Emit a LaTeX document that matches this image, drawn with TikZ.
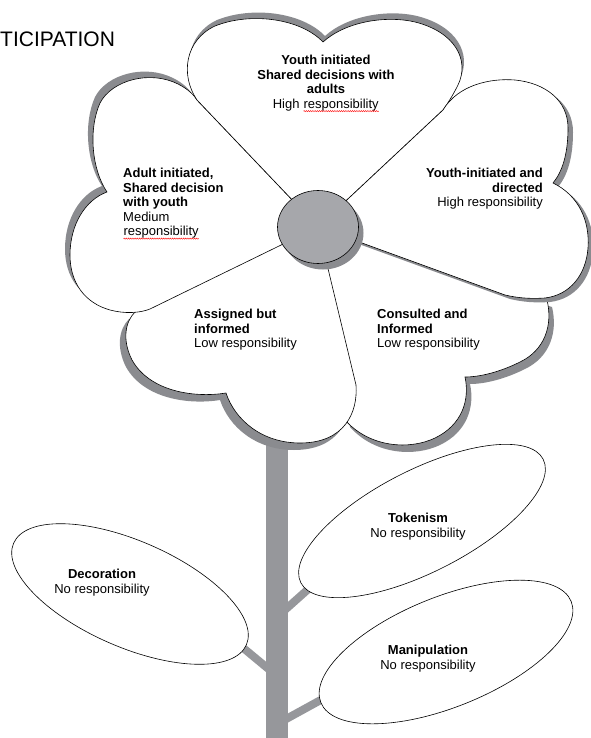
\documentclass[tikz,border=0pt]{standalone}
\usepackage{fontspec}
\setmainfont{Liberation Sans}
\usepackage{tikz}
\usetikzlibrary{calc, positioning, decorations.pathmorphing}

\definecolor{shadowgray}{RGB}{138,139,143}
\definecolor{stemgray}{RGB}{150,151,155}
\definecolor{discgray}{RGB}{166,167,171}

\newcommand{\redwave}[1]{\tikz[baseline=(w.base)]{\node[inner sep=0pt] (w) {#1};
    \draw[red, line width=0.4pt, decorate, decoration={snake, amplitude=0.6pt, segment length=2.2pt}]
    ([yshift=-3pt]w.base west) -- ([yshift=-3pt]w.base east);}}

\newcommand{\toppetal}{(318,227) -- (197,100)
    .. controls (180,75) and (185,40) .. (215,26)
    .. controls (250,12) and (300,18) .. (323,42)
    .. controls (345,22) and (385,15) .. (415,22)
    .. controls (455,32) and (470,60) .. (458,85)
    .. controls (453,95) and (448,103) .. (443,110) -- cycle}
\newcommand{\rightpetal}{(318,227) -- (443,110)
    .. controls (458,85) and (490,78) .. (515,80)
    .. controls (545,83) and (568,100) .. (568,128)
    .. controls (568,155) and (562,172) .. (553,183)
    .. controls (578,195) and (590,220) .. (588,248)
    .. controls (586,275) and (570,295) .. (545,298)
    .. controls (530,299) and (518,298) .. (505,295) -- cycle}
\newcommand{\lowrightpetal}{(318,227) -- (547,300)
    .. controls (553,325) and (545,350) .. (520,362)
    .. controls (500,372) and (480,377) .. (465,377)
    .. controls (470,400) and (462,425) .. (435,438)
    .. controls (410,450) and (370,448) .. (345,420) -- cycle}
\newcommand{\lowleftpetal}{(318,227) -- (356,385)
    .. controls (358,412) and (345,443) .. (300,443)
    .. controls (262,443) and (235,420) .. (226,393)
    .. controls (195,398) and (150,392) .. (132,360)
    .. controls (122,340) and (125,322) .. (135,312) -- cycle}
\newcommand{\leftpetal}{(318,227) -- (150,309)
    .. controls (140,313) and (125,314) .. (110,310)
    .. controls (85,303) and (70,283) .. (70,255)
    .. controls (70,225) and (85,200) .. (107,192)
    .. controls (92,170) and (88,130) .. (100,103)
    .. controls (112,80) and (150,70) .. (178,84)
    .. controls (188,89) and (194,95) .. (197,100) -- cycle}

\begin{document}
\begin{tikzpicture}[x=1pt, y=-1pt,
        petal/.style={fill=white, draw=black, line width=0.6pt},
        leaf/.style={fill=white, draw=black, line width=0.6pt},
        branch/.style={draw=stemgray, line width=8pt},
        every node/.style={font=\fontsize{13}{14.5}\selectfont, inner sep=0pt}]
    \useasboundingbox (0,0) rectangle (590,738);

    \node[anchor=west, font=\fontsize{21}{24}\selectfont] (title) at (0,39.5) {TICIPATION};

    \fill[stemgray] (266,430) rectangle (288,738);
    \coordinate (decostem) at (277,676);
    \coordinate (decoend) at (236,642);
    \coordinate (tokenstem) at (277,617);
    \coordinate (tokenend) at (314,584);
    \coordinate (maniptem) at (277,724);
    \coordinate (manipend) at (328,696);
    \draw[branch] (decostem) -- (decoend);
    \draw[branch] (tokenstem) -- (tokenend);
    \draw[branch] (maniptem) -- (manipend);

    \fill[shadowgray, shift={(5,7)}] \lowrightpetal;
    \fill[shadowgray, shift={(-6,7)}] \lowleftpetal;
    \fill[shadowgray, shift={(-5,-6)}] \leftpetal;
    \fill[shadowgray, shift={(2,-6)}] \toppetal;
    \draw[petal] \lowrightpetal;
    \fill[shadowgray, shift={(5,4)}] \rightpetal;
    \draw[petal] \lowleftpetal;
    \draw[petal] \leftpetal;
    \draw[petal] \toppetal;
    \draw[petal] \rightpetal;

    \fill[shadowgray] (323,233) ellipse [x radius=40.5pt, y radius=36.5pt];
    \draw[fill=discgray, line width=0.6pt] (318,227) ellipse [x radius=40.5pt, y radius=36.5pt];

    \draw[leaf, rotate around={-23.6:(130,594)}] (130,594) ellipse [x radius=127pt, y radius=53pt];
    \draw[leaf, rotate around={27:(422,521)}] (422,521) ellipse [x radius=136pt, y radius=51pt];
    \draw[leaf, rotate around={22:(446,652)}] (446,652) ellipse [x radius=135pt, y radius=55pt];

    \node[anchor=north, align=center] (youthshared) at (326,55)
        {\textbf{Youth initiated}\\ \textbf{Shared decisions with}\\ \textbf{adults}\\ High \redwave{responsibility}};
    \node[anchor=north east, align=right] (youthdirected) at (543,168)
        {\textbf{Youth-initiated and}\\ \textbf{directed}\\ High responsibility};
    \node[anchor=north west, align=left] (adultshared) at (123,168)
        {\textbf{Adult initiated,}\\ \textbf{Shared decision}\\ \textbf{with youth}\\ Medium\\ \redwave{responsibility}};
    \node[anchor=north west, align=left] (assigned) at (194,309)
        {\textbf{Assigned but}\\ \textbf{informed}\\ Low responsibility};
    \node[anchor=north west, align=left] (consulted) at (377,309)
        {\textbf{Consulted and}\\ \textbf{Informed}\\ Low responsibility};
    \node[anchor=north, align=center] (tokenism) at (418,513)
        {\textbf{Tokenism}\\ No responsibility};
    \node[anchor=north, align=center] (decoration) at (102,569)
        {\textbf{Decoration}\\ No responsibility};
    \node[anchor=north, align=center] (manipulation) at (428,645)
        {\textbf{Manipulation}\\ No responsibility};
\end{tikzpicture}
\end{document}
